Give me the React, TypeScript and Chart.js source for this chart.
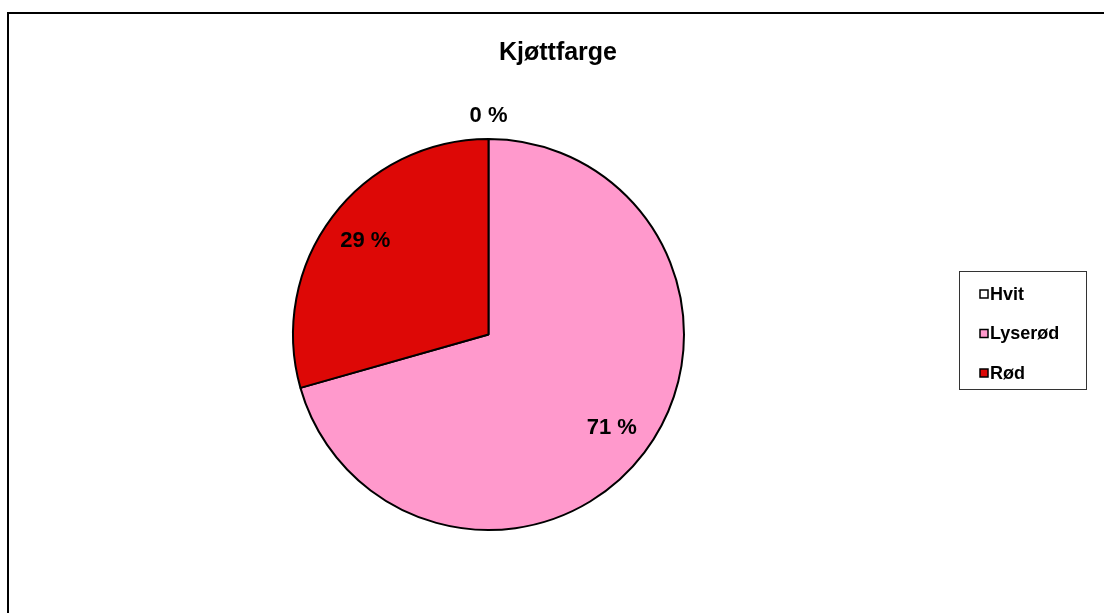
import React, { useEffect, useRef } from "react";
import { Chart, registerables } from "chart.js";

Chart.register(...registerables);

const TITLE = "Kjøttfarge";
const categories = ["Hvit", "Lyserød", "Rød"];
const values = [0, 70.6, 29.4];
const colors = ["#ffffff", "#ff99cc", "#dd0806"];

const FONT = '"Liberation Sans", Arial, Helvetica, sans-serif';

const overlayPlugin = {
  id: "overlay",
  afterDatasetsDraw(chart: any) {
    const ctx = chart.ctx;
    const meta = chart.getDatasetMeta(0);
    const ds = chart.data.datasets[0];
    ctx.save();
    ctx.fillStyle = "#000";
    ctx.textAlign = "center";
    ctx.textBaseline = "middle";
    ctx.font = `bold 22px ${FONT}`;
    meta.data.forEach((arc: any, i: number) => {
      const { x, y, startAngle, endAngle, outerRadius } = arc.getProps(
        ["x", "y", "startAngle", "endAngle", "outerRadius"],
        true
      );
      const mid = (startAngle + endAngle) / 2;
      const v = ds.data[i] as number;
      const r = v === 0 ? outerRadius + 23 : outerRadius * 0.79;
      ctx.fillText(`${Math.round(v)} %`, x + Math.cos(mid) * r, y + Math.sin(mid) * r);
    });
    ctx.restore();
  },
  afterDraw(chart: any) {
    const ctx = chart.ctx;
    const ds = chart.data.datasets[0];
    ctx.save();
    ctx.fillStyle = "#000";
    ctx.textAlign = "center";
    ctx.textBaseline = "middle";
    ctx.font = `bold 25px ${FONT}`;
    ctx.fillText(TITLE, 558, 53);
    const lx = 959.5, ly = 271.5, lw = 127, lh = 118;
    ctx.strokeStyle = "#333";
    ctx.lineWidth = 1;
    ctx.strokeRect(lx, ly, lw, lh);
    ctx.font = `bold 18px ${FONT}`;
    ctx.textAlign = "left";
    chart.data.labels.forEach((lab: string, i: number) => {
      const cy = 294 + i * 39.5;
      ctx.fillStyle = ds.backgroundColor[i];
      ctx.fillRect(980, cy - 4, 8, 8);
      ctx.strokeStyle = "#000";
      ctx.lineWidth = 1.5;
      ctx.strokeRect(980, cy - 4, 8, 8);
      ctx.fillStyle = "#000";
      ctx.fillText(lab, 990, cy + 1);
    });
    ctx.restore();
  },
};

export default function App() {
  const ref = useRef<HTMLCanvasElement>(null);
  useEffect(() => {
    const chart = new Chart(ref.current!, {
      type: "pie",
      data: {
        labels: categories,
        datasets: [
          {
            data: values,
            backgroundColor: colors,
            borderColor: "#000",
            borderWidth: 2,
          },
        ],
      },
      options: {
        responsive: false,
        animation: false,
        layout: { padding: { left: 292, right: 419, top: 138, bottom: 82 } },
        plugins: {
          legend: { display: false },
          title: { display: false },
          tooltip: { enabled: false },
        },
      },
      plugins: [overlayPlugin],
    });
    return () => chart.destroy();
  }, []);
  return (
    <div
      style={{
        position: "fixed",
        left: 0,
        top: 0,
        width: 1104,
        height: 613,
        overflow: "hidden",
        background: "#fff",
      }}
    >
      <div
        style={{
          position: "absolute",
          left: 7,
          top: 12,
          width: 1200,
          height: 700,
          border: "2px solid #000",
        }}
      />
      <canvas
        ref={ref}
        width={1104}
        height={613}
        style={{ position: "absolute", left: 0, top: 0 }}
      />
    </div>
  );
}
